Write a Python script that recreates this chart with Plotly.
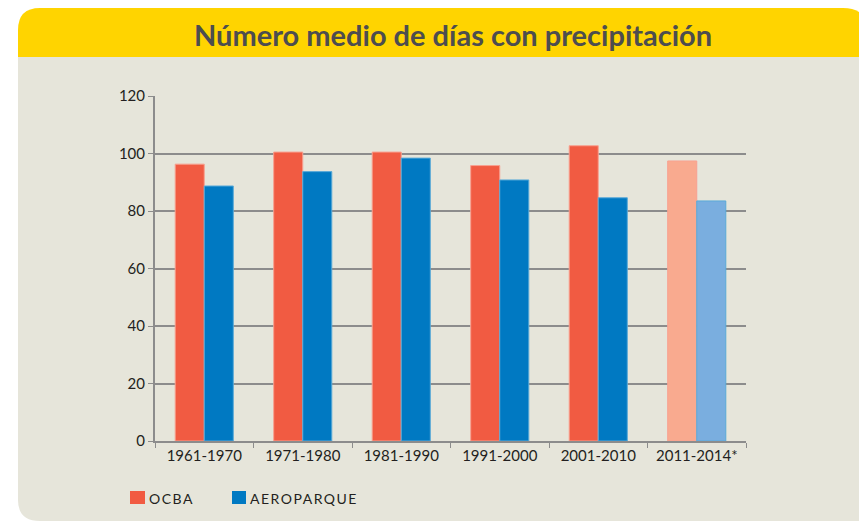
import plotly.graph_objects as go

# decades and mean number of days with precipitation
periods = ["1961-1970", "1971-1980", "1981-1990", "1991-2000", "2001-2010", "2011-2014*"]
ocba = [96.3, 100.5, 100.5, 95.8, 102.7, 97.4]
aeroparque = [88.7, 93.7, 98.4, 90.8, 84.6, 83.5]

ocba_colors = ["#F15B42"] * 5 + ["#F9AA8F"]
aero_colors = ["#0079C2"] * 5 + ["#7AAEDF"]

W, H = 867, 523
OFF = 8  # page body margin, the figure is drawn 8px down and right
L, R, T, B = 155 - OFF, 746 - OFF, 96 - OFF, 441 - OFF


# screen pixel -> paper coordinates, so the background pieces can be placed by eye
def px(x):
    return (x - OFF - L) / (R - L)


def py(y):
    return (B - (y - OFF)) / (B - T)


fig = go.Figure()
fig.add_trace(go.Bar(
    x=periods, y=ocba, name="OCBA",
    marker=dict(color=ocba_colors, line=dict(color="#F8A190", width=1)),
))
fig.add_trace(go.Bar(
    x=periods, y=aeroparque, name="AEROPARQUE",
    marker=dict(color=aero_colors, line=dict(color="#5AAAD8", width=1)),
))

# yellow header with rounded top corners
header = (f"M {px(18)},{py(57)} L {px(18)},{py(30)} Q {px(18)},{py(8)} {px(40)},{py(8)} "
          f"L {px(843)},{py(8)} Q {px(868)},{py(8)} {px(868)},{py(33)} L {px(868)},{py(57)} Z")
# beige panel with rounded bottom-left corner
panel = (f"M {px(18)},{py(57)} L {px(18)},{py(500)} Q {px(18)},{py(521)} {px(40)},{py(521)} "
         f"L {px(880)},{py(521)} L {px(880)},{py(57)} Z")

shapes = [
    dict(type="path", path=panel, xref="paper", yref="paper",
         fillcolor="#E6E5DA", line=dict(width=0), layer="below"),
    dict(type="path", path=header, xref="paper", yref="paper",
         fillcolor="#FFD400", line=dict(width=0), layer="below"),
]
annotations = [dict(
    text="<b>Número medio de días con precipitación</b>",
    x=px(453), y=py(34), xref="paper", yref="paper",
    xanchor="center", yanchor="middle",
    showarrow=False, font=dict(family="Lato", size=29, color="#4D4D4F"),
)]

# legend drawn by hand: square swatch with the label right next to it
for name, color, x0, x1 in [("OCBA", "#F15B42", 130, 145), ("AEROPARQUE", "#0079C2", 232, 246)]:
    shapes.append(dict(type="rect", xref="paper", yref="paper",
                       x0=px(x0), x1=px(x1), y0=py(504), y1=py(491),
                       fillcolor=color, line=dict(width=0)))
    annotations.append(dict(text=f'<span style="letter-spacing:1.5px">{name}</span>',
                            x=px(x1 + 2), y=py(498), xref="paper", yref="paper",
                            xanchor="left", yanchor="middle", showarrow=False,
                            font=dict(family="Lato", size=14, color="#231F20")))

fig.update_layout(
    width=W, height=H,
    margin=dict(l=L, r=W - R, t=T, b=H - B),
    paper_bgcolor="white",
    plot_bgcolor="rgba(0,0,0,0)",
    barmode="group", bargap=0.41, bargroupgap=0,
    font=dict(family="Lato", size=15, color="#231F20"),
    shapes=shapes,
    annotations=annotations,
    showlegend=False,
)
fig.update_yaxes(
    range=[0, 120], dtick=20, showgrid=True, gridcolor="#8C8C8C", gridwidth=2,
    showline=True, linecolor="#8C8C8C", linewidth=2,
    ticks="outside", ticklen=5, tickcolor="#8C8C8C", zeroline=False,
)
fig.update_xaxes(
    showline=True, linecolor="#8C8C8C", linewidth=2,
    ticks="outside", ticklen=5, tickcolor="#8C8C8C", tickson="boundaries",
    range=[-0.5, 5.5],
)

fig.write_html("out.html")
